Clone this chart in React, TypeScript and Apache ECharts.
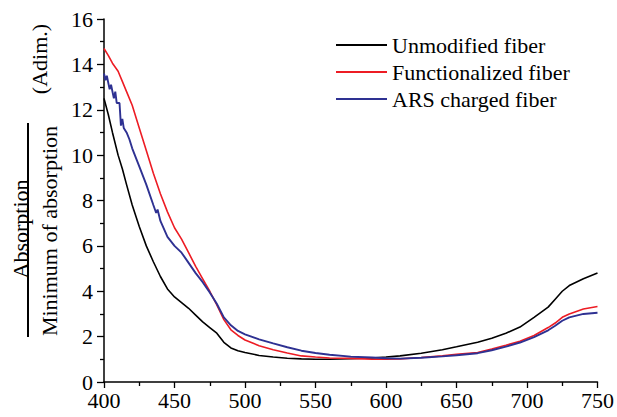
import React, { useEffect, useRef } from "react";
import * as echarts from "echarts";

const seriesNames = ["Unmodified fiber", "Functionalized fiber", "ARS charged fiber"];
const seriesColors = ["#000000", "#ed1c24", "#2e3192"];

const xTicks = { min: 400, max: 750, step: 50 };
const yTicks = { min: 0, max: 16, step: 2 };

const blackX = [400, 403, 406, 410, 413, 416, 420, 425, 430, 435, 440, 445, 450, 455, 460, 465, 470, 475, 480, 485, 490, 495, 500, 510, 520, 530, 540, 550, 560, 575, 590, 600, 610, 625, 640, 650, 665, 675, 685, 695, 705, 715, 720, 725, 730, 740, 750];
const blackY = [12.5, 11.8, 11.0, 10.0, 9.4, 8.7, 7.8, 6.85, 6.0, 5.3, 4.65, 4.1, 3.75, 3.5, 3.25, 2.95, 2.65, 2.4, 2.15, 1.75, 1.5, 1.38, 1.3, 1.17, 1.1, 1.05, 1.02, 1.0, 1.0, 1.03, 1.06, 1.1, 1.15, 1.27, 1.42, 1.55, 1.75, 1.93, 2.15, 2.42, 2.85, 3.3, 3.65, 4.0, 4.25, 4.55, 4.8];

const redX = [400, 403, 406, 410, 413, 416, 420, 425, 430, 435, 440, 445, 450, 455, 460, 465, 470, 475, 480, 485, 490, 495, 500, 510, 520, 530, 540, 550, 560, 575, 590, 600, 610, 625, 640, 650, 665, 675, 685, 695, 705, 715, 720, 725, 730, 740, 750];
const redY = [14.7, 14.4, 14.05, 13.7, 13.25, 12.8, 12.2, 11.2, 10.2, 9.2, 8.3, 7.5, 6.8, 6.3, 5.7, 5.1, 4.55, 4.0, 3.4, 2.75, 2.3, 2.05, 1.85, 1.6, 1.42, 1.28, 1.15, 1.1, 1.06, 1.04, 1.01, 1.0, 1.02, 1.08, 1.15, 1.22, 1.3, 1.45, 1.62, 1.8, 2.05, 2.4, 2.6, 2.85, 3.0, 3.22, 3.33];

const blueX = [400, 401, 402, 404, 405, 407, 408, 409, 411, 412, 413, 414, 416, 418, 420, 425, 430, 435, 437, 438, 440, 445, 450, 455, 460, 465, 470, 475, 480, 485, 490, 495, 500, 510, 520, 530, 540, 550, 560, 575, 590, 600, 610, 625, 640, 650, 665, 675, 685, 695, 705, 715, 720, 725, 730, 740, 750];
const blueY = [13.6, 13.3, 13.5, 12.9, 13.1, 12.5, 12.8, 12.3, 12.3, 11.3, 11.6, 11.2, 11.0, 10.7, 10.3, 9.5, 8.7, 7.8, 7.45, 7.6, 7.1, 6.4, 6.0, 5.7, 5.25, 4.8, 4.4, 3.95, 3.45, 2.85, 2.5, 2.25, 2.1, 1.88, 1.7, 1.53, 1.38, 1.28, 1.2, 1.12, 1.08, 1.05, 1.03, 1.07, 1.13, 1.18, 1.27, 1.4, 1.56, 1.74, 1.98, 2.28, 2.48, 2.7, 2.85, 3.0, 3.05];

const yTitleTop = "Absorption";
const yTitleBottom = "Minimum of absorption";
const yTitleUnit = "(Adim.)";

const FONT = "Liberation Serif";

function pairs(xs: number[], ys: number[]) {
  return xs.map((x, i) => [x, ys[i]]);
}

export default function App() {
  const ref = useRef<HTMLDivElement>(null);
  useEffect(() => {
    if (!ref.current) return;
    const chart = echarts.init(ref.current, undefined, { renderer: "svg" });
    const datasets = [pairs(blackX, blackY), pairs(redX, redY), pairs(blueX, blueY)];
    const widths = [1.6, 1.6, 1.9];
    const zs = [2, 3, 4];
    chart.setOption({
      animation: false,
      backgroundColor: "#ffffff",
      grid: { left: 104, right: 17, top: 19, bottom: 35, containLabel: false },
      legend: {
        orient: "vertical",
        left: 331,
        top: 29,
        padding: 5,
        itemGap: 5,
        itemWidth: 51,
        itemHeight: 2,
        icon: "rect",
        data: seriesNames,
        textStyle: { fontFamily: FONT, fontSize: 22, color: "#000" },
      },
      xAxis: {
        type: "value",
        min: xTicks.min,
        max: xTicks.max,
        interval: xTicks.step,
        axisLine: { lineStyle: { color: "#000", width: 1.5 } },
        axisTick: { length: 6, lineStyle: { color: "#000", width: 1.3 } },
        minorTick: { show: true, splitNumber: 2, length: 4, lineStyle: { color: "#000", width: 1.3 } },
        splitLine: { show: false },
        axisLabel: { fontFamily: FONT, fontSize: 22, lineHeight: 16, color: "#000", margin: 10 },
      },
      yAxis: {
        type: "value",
        min: yTicks.min,
        max: yTicks.max,
        interval: yTicks.step,
        axisLine: { show: true, lineStyle: { color: "#000", width: 1.5 } },
        axisTick: { show: true, length: 7, lineStyle: { color: "#000", width: 1.3 } },
        minorTick: { show: true, splitNumber: 2, length: 4, lineStyle: { color: "#000", width: 1.3 } },
        splitLine: { show: false },
        axisLabel: { fontFamily: FONT, fontSize: 22, lineHeight: 16, color: "#000", margin: 11 },
      },
      series: seriesNames.map((name, i) => ({
        name,
        type: "line",
        data: datasets[i],
        symbol: "none",
        smooth: false,
        color: seriesColors[i],
        lineStyle: { color: seriesColors[i], width: widths[i] },
        z: zs[i],
      })),
      graphic: [
        {
          type: "text",
          x: 20,
          y: 229,
          rotation: Math.PI / 2,
          style: {
            text: yTitleTop,
            font: `22px ${FONT}`,
            fill: "#000",
            align: "center",
            verticalAlign: "middle",
          },
        },
        {
          type: "line",
          shape: { x1: 28, y1: 123, x2: 28, y2: 337 },
          style: { stroke: "#000", lineWidth: 2 },
        },
        {
          type: "text",
          x: 49,
          y: 231,
          rotation: Math.PI / 2,
          style: {
            text: yTitleBottom,
            font: `22px ${FONT}`,
            fill: "#000",
            align: "center",
            verticalAlign: "middle",
          },
        },
        {
          type: "text",
          x: 39,
          y: 59,
          rotation: Math.PI / 2,
          style: {
            text: yTitleUnit,
            font: `22px ${FONT}`,
            fill: "#000",
            align: "center",
            verticalAlign: "middle",
          },
        },
      ],
    });
    return () => chart.dispose();
  }, []);
  return <div ref={ref} style={{ width: 617, height: 417, position: "absolute", left: 0, top: 0 }} />;
}
